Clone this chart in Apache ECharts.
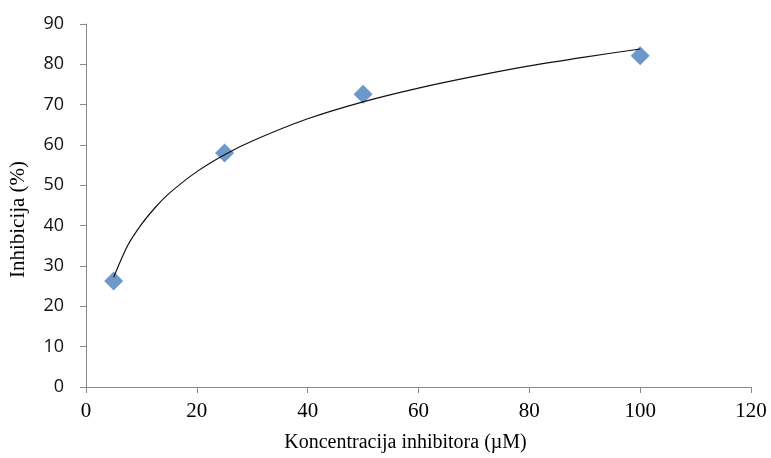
<!DOCTYPE html>
<html>
<head>
<meta charset="utf-8">
<script src="https://cdn.jsdelivr.net/npm/echarts@6/dist/echarts.min.js"></script>
<style>html,body{margin:0;padding:0;background:#fff}#c{width:771px;height:458px}</style>
</head>
<body>
<div id="c"></div>
<script>
// Measured points
const concX = [5, 25, 50, 100];
const inhibY = [26.3, 58.0, 72.6, 82.1];
// Logarithmic trendline
const trendX = [5, 7.5, 10, 12.5, 15, 20, 25, 30, 40, 50, 60, 70, 80, 90, 100];
const trendY = [27.2, 35.0, 40.3, 44.5, 48.0, 53.4, 57.6, 61.0, 66.5, 70.7, 74.1, 77.0, 79.6, 81.8, 83.8];
const xTicks = [0, 20, 40, 60, 80, 100, 120];
const yTicks = [0, 10, 20, 30, 40, 50, 60, 70, 80, 90];

const chart = echarts.init(document.getElementById('c'), null, {renderer: 'canvas'});
const axisGray = '#898989';
chart.setOption({
  animation: false,
  grid: {left: 85, right: 20, top: 24, bottom: 70, containLabel: false},
  xAxis: {
    type: 'value', min: xTicks[0], max: xTicks[xTicks.length - 1], interval: 20,
    name: 'Koncentracija inhibitora (µM)', nameLocation: 'middle', nameGap: 46,
    nameTextStyle: {fontFamily: 'Liberation Serif', fontSize: 20, color: '#000', padding: [0, 26, 0, 0]},
    axisLine: {lineStyle: {color: axisGray, width: 1}},
    axisTick: {show: true, inside: false, length: 6, lineStyle: {color: axisGray}},
    axisLabel: {fontFamily: 'Liberation Serif', fontSize: 21, color: '#000', margin: 14},
    splitLine: {show: false}
  },
  yAxis: {
    type: 'value', min: yTicks[0], max: yTicks[yTicks.length - 1], interval: 10,
    name: 'Inhibicija (%)', nameLocation: 'middle', nameGap: 57,
    nameTextStyle: {fontFamily: 'Liberation Serif', fontSize: 21, color: '#000', padding: [0, 28, 0, 0]},
    axisLine: {show: true, lineStyle: {color: axisGray, width: 1}},
    axisTick: {show: true, inside: false, length: 6, lineStyle: {color: axisGray}},
    axisLabel: {fontFamily: 'Open Sans', fontSize: 18, color: '#111', margin: 22},
    splitLine: {show: false}
  },
  series: [
    {
      type: 'line', data: trendX.map((x, i) => [x, trendY[i]]),
      smooth: 0.3, showSymbol: false, symbol: 'none',
      lineStyle: {color: '#111', width: 1.2}, z: 3
    },
    {
      type: 'scatter', data: concX.map((x, i) => [x, inhibY[i]]),
      symbol: 'diamond', symbolSize: [19, 19],
      itemStyle: {color: '#4A7EBB'}, z: 2
    }
  ]
});
</script>
</body>
</html>
